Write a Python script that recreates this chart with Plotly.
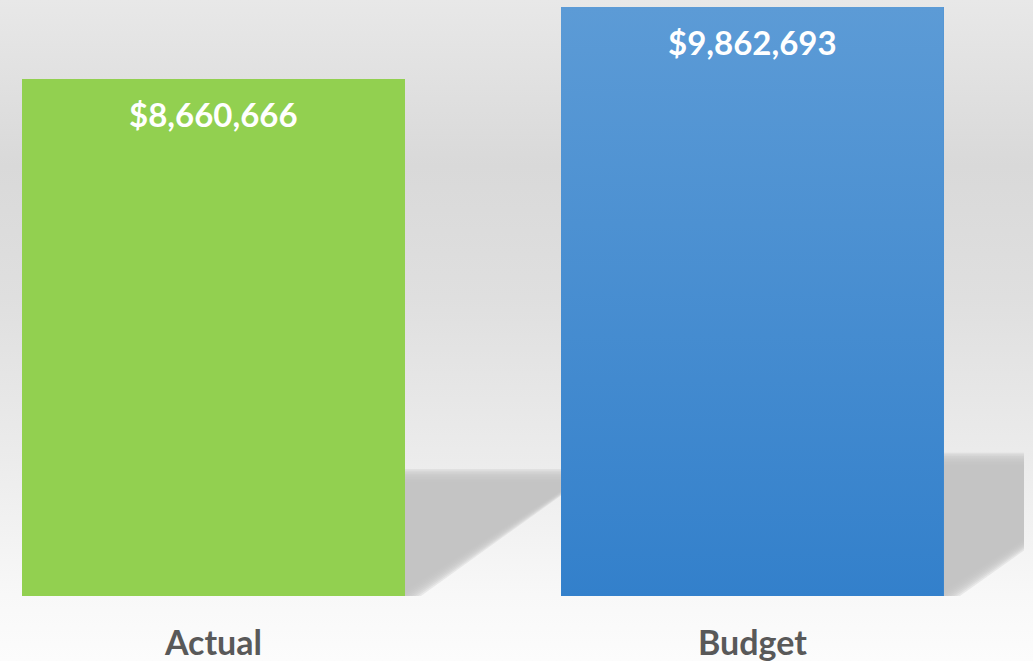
import base64
import plotly.graph_objects as go

# Chart data
categories = ["Actual", "Budget"]
values = [8660666, 9862693]
bar_colors = ["#92D050", "#4A8FD2"]
budget_gradient = ["#3380CB", "#5C9BD6"]  # bottom -> top

# Figure geometry
W, H = 1033, 661
M_L, M_R, M_T, M_B = 0, 9, 0, 65
PLOT_W, PLOT_H = W - M_L - M_R, H - M_T - M_B
Y_MAX = 9.98e6
X_RANGE = [-0.396, 1.504]
BAR_W = 0.71

px_per_x = PLOT_W / (X_RANGE[1] - X_RANGE[0])
px_per_y = PLOT_H / Y_MAX

positions = list(range(len(categories)))

fig = go.Figure()

# Bars
fig.add_trace(go.Bar(
    x=positions, y=values, width=BAR_W,
    marker=dict(color=bar_colors, line=dict(width=0)),
    customdata=categories, hovertemplate="%{customdata}: %{y:$,.0f}<extra></extra>",
))

# Vertical gradient over the Budget bar
bi = categories.index("Budget")
bv = values[bi]
fig.add_trace(go.Scatter(
    x=[bi - BAR_W / 2, bi + BAR_W / 2, bi + BAR_W / 2, bi - BAR_W / 2, bi - BAR_W / 2],
    y=[0, 0, bv, bv, 0],
    mode="lines", line=dict(width=0), fill="toself",
    fillgradient=dict(type="vertical",
                      colorscale=[[0, budget_gradient[0]], [1, budget_gradient[1]]]),
    hoverinfo="skip", showlegend=False,
))

# Soft perspective shadows cast to the right of each bar
SHADOW_RATIO = 0.228
SKEW = 1.5
LAYERS = 12
SPREAD = 18.0
shapes = []
for i, v in zip(positions, values):
    xl, xr = i - BAR_W / 2, i + BAR_W / 2
    h = SHADOW_RATIO * v
    h_px = h * px_per_y
    for k in range(LAYERS):
        e = (k - (LAYERS - 1) / 2) * SPREAD / (LAYERS - 1)  # px outward growth
        top = h + e / px_per_y
        dx = (SKEW * h_px + e * 1.8) / px_per_x
        path = (f"M {xl},0 L {xr + e * 1.8 / px_per_x},0 "
                f"L {xr + dx},{top} L {xl + dx},{top} Z")
        shapes.append(dict(
            type="path", path=path, xref="x", yref="y", layer="below",
            fillcolor="rgba(195,195,195,0.3)", line=dict(width=0),
        ))

# Value labels near the top of each bar
annotations = []
for i, v in zip(positions, values):
    annotations.append(dict(
        x=i, y=v, xref="x", yref="y", text=f"${v:,.0f}",
        showarrow=False, yanchor="top", yshift=-13,
        font=dict(family="Lato", size=33, color="white", weight="bold"),
    ))

# Background gradient for the whole figure
svg = (
    '<svg xmlns="http://www.w3.org/2000/svg" width="100" height="100" '
    'viewBox="0 0 100 100" preserveAspectRatio="none">'
    '<defs><linearGradient id="g" x1="0" y1="0" x2="0" y2="1">'
    '<stop offset="0" stop-color="#e8e8e8"/>'
    '<stop offset="0.25" stop-color="#d9d9d9"/>'
    '<stop offset="0.45" stop-color="#dfdfdf"/>'
    '<stop offset="0.70" stop-color="#ececec"/>'
    '<stop offset="0.90" stop-color="#f8f8f8"/>'
    '<stop offset="1" stop-color="#fcfcfc"/>'
    '</linearGradient></defs>'
    '<rect x="0" y="0" width="100" height="100" fill="url(#g)"/></svg>'
)
bg_uri = "data:image/svg+xml;base64," + base64.b64encode(svg.encode()).decode()

fig.update_layout(
    width=W, height=H,
    margin=dict(l=M_L, r=M_R, t=M_T, b=M_B, pad=0),
    paper_bgcolor="#e6e6e6", plot_bgcolor="rgba(0,0,0,0)",
    showlegend=False, bargap=0,
    shapes=shapes, annotations=annotations,
    images=[dict(
        source=bg_uri, xref="paper", yref="paper",
        x=-M_L / PLOT_W, y=1 + M_T / PLOT_H,
        sizex=W / PLOT_W, sizey=H / PLOT_H,
        xanchor="left", yanchor="top", sizing="stretch", layer="below",
    )],
    xaxis=dict(
        range=X_RANGE, showgrid=False, zeroline=False,
        showline=False, ticks="", fixedrange=True,
        tickmode="array", tickvals=positions, ticktext=categories,
        ticklabelstandoff=24,
        tickfont=dict(family="Lato", size=34, color="#595959", weight="bold"),
    ),
    yaxis=dict(range=[0, Y_MAX], visible=False, fixedrange=True),
)

fig.write_html("out.html")
